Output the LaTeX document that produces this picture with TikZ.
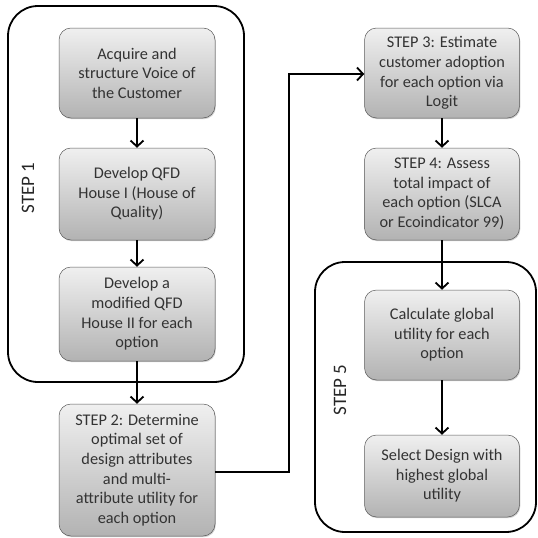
\documentclass[tikz,border=0pt]{standalone}
\usepackage{fontspec}
\setmainfont{Carlito}
\usetikzlibrary{arrows.meta,shadows}
\begin{document}
\begin{tikzpicture}[x=1pt,y=-1pt,
  stepbox/.style={draw=gray!70!black, line width=0.5pt, rounded corners=12pt,
    top color=gray!12, bottom color=gray!60, align=center, text=black!80,
    minimum width=156pt, inner sep=1pt, font=\fontsize{16.3}{19.6}\selectfont,
    drop shadow={shadow xshift=0.8pt, shadow yshift=-1.2pt, fill=gray!60, opacity=0.6}},
  frame/.style={draw=black, line width=1.8pt, rounded corners=30pt},
  conn/.style={line width=1.6pt, -{Straight Barb[length=6pt,width=13pt,line width=1.8pt]}},
  lbl/.style={rotate=90, text=black!85, font=\fontsize{19}{22}\selectfont}]
\useasboundingbox (0,0) rectangle (538,538);
% frames
\draw[frame] (8,6) rectangle (244,382);
\draw[frame] (315,262) rectangle (536,532);
\node[lbl] (s1) at (28,188) {STEP 1};
\node[lbl] (s5) at (340,390) {STEP 5};
% boxes
\node[stepbox, minimum height=90pt] (a) at (137,73) {Acquire and\\structure Voice of\\the Customer};
\node[stepbox, minimum height=92pt] (b) at (137,194) {Develop QFD\\House I (House of\\Quality)};
\node[stepbox, minimum height=94pt] (c) at (137,314) {Develop a\\modified QFD\\House II for each\\option};
\node[stepbox, minimum height=132pt] (d) at (137,470) {STEP 2: Determine\\optimal set of\\design attributes\\and multi-\\attribute utility for\\each option};
\node[stepbox, minimum width=155pt, minimum height=90pt] (e) at (442,73) {STEP 3: Estimate\\customer adoption\\for each option via\\Logit};
\node[stepbox, minimum width=155pt, minimum height=92pt] (f) at (442,194) {STEP 4: Assess\\total impact of\\each option (SLCA\\or Ecoindicator 99)};
\node[stepbox, minimum width=155pt, minimum height=90pt] (g) at (442,335) {Calculate global\\utility for each\\option};
\node[stepbox, minimum width=155pt, minimum height=82pt] (h) at (442,476) {Select Design with\\highest global\\utility};
% connectors
\coordinate (k1) at (289,472);
\coordinate (k2) at (289,74);
\draw[conn] (a) -- (b);
\draw[conn] (b) -- (c);
\draw[conn] (c) -- (d);
\draw[line width=1.2pt, -{Straight Barb[length=6pt,width=13pt,line width=1.8pt]}] (d.east |- k1) -- (k1) -- (k2) -- (e.west |- k2);
\draw[conn] (e) -- (f);
\draw[conn] (f) -- (g);
\draw[conn] (g) -- (h);
\end{tikzpicture}
\end{document}
